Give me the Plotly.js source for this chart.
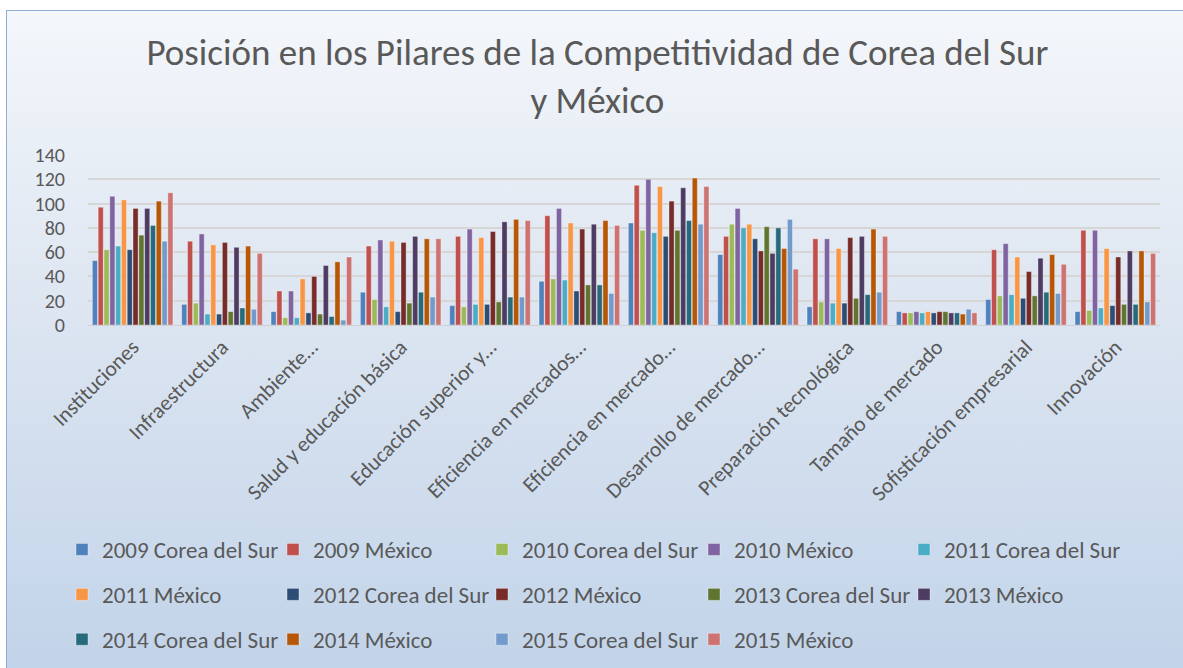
<!DOCTYPE html>
<html>
<head>
<meta charset="utf-8">
<script src="https://cdn.plot.ly/plotly-3.0.1.min.js"></script>
<style>
  html, body { margin: 0; padding: 0; background: #ffffff; }
  #wrap { position: relative; width: 1183px; height: 668px; overflow: hidden; }
  #frame { position: absolute; left: 6px; top: 10px; width: 1180px; height: 670px;
           border: 1px solid #8eaed6;
           background: linear-gradient(to bottom, #f4f7fb 0%, #dfe7f2 40%, #c1d3e9 100%); }
  #chart { position: absolute; left: 0; top: 0; width: 1183px; height: 668px; }
</style>
</head>
<body>
<div id="wrap"><div id="frame"></div><div id="chart"></div></div>
<script>
const categories = ["Instituciones", "Infraestructura", "Ambiente…", "Salud y educación básica",
  "Educación superior y…", "Eficiencia en mercados…", "Eficiencia en mercado…",
  "Desarrollo de mercado…", "Preparación tecnológica", "Tamaño de mercado",
  "Sofisticación empresarial", "Innovación"];

const seriesNames = ["2009 Corea del Sur", "2009 México", "2010 Corea del Sur", "2010 México",
  "2011 Corea del Sur", "2011 México", "2012 Corea del Sur", "2012 México",
  "2013 Corea del Sur", "2013 México", "2014 Corea del Sur", "2014 México",
  "2015 Corea del Sur", "2015 México"];

const kr2009 = [53, 17, 11, 27, 16, 36, 84, 58, 15, 11, 21, 11];
const mx2009 = [97, 69, 28, 65, 73, 90, 115, 73, 71, 10, 62, 78];
const kr2010 = [62, 18, 6, 21, 15, 38, 78, 83, 19, 10, 24, 12];
const mx2010 = [106, 75, 28, 70, 79, 96, 120, 96, 71, 11, 67, 78];
const kr2011 = [65, 9, 6, 15, 17, 37, 76, 80, 18, 10, 25, 14];
const mx2011 = [103, 66, 38, 69, 72, 84, 114, 83, 63, 11, 56, 63];
const kr2012 = [62, 9, 10, 11, 17, 28, 73, 71, 18, 10, 22, 16];
const mx2012 = [96, 68, 40, 68, 77, 79, 102, 61, 72, 11, 44, 56];
const kr2013 = [74, 11, 9, 18, 19, 33, 78, 81, 22, 11, 24, 17];
const mx2013 = [96, 64, 49, 73, 85, 83, 113, 59, 73, 10, 55, 61];
const kr2014 = [82, 14, 7, 27, 23, 33, 86, 80, 25, 10, 27, 17];
const mx2014 = [102, 65, 52, 71, 87, 86, 121, 63, 79, 9, 58, 61];
const kr2015 = [69, 13, 4, 23, 23, 26, 83, 87, 27, 13, 26, 19];
const mx2015 = [109, 59, 56, 71, 86, 82, 114, 46, 73, 10, 50, 59];

const seriesValues = [kr2009, mx2009, kr2010, mx2010, kr2011, mx2011, kr2012, mx2012,
  kr2013, mx2013, kr2014, mx2014, kr2015, mx2015];

const colors = ["#4F81BD", "#C0504D", "#9BBB59", "#8064A2", "#4BACC6", "#F79646",
  "#2C4D75", "#772C2A", "#5F7530", "#4D3B62", "#276A7C", "#B65708", "#729ACA", "#CD7371"];

const FONT = "Carlito, Calibri, 'Liberation Sans Narrow', 'Open Sans', sans-serif";
// legend laid out in 5 columns, 3 rows (row-major order like the reference)
const legendCols = ["legend", "legend2", "legend3", "legend4", "legend5"];

const traces = seriesNames.map((name, i) => ({
  type: "bar",
  name: name,
  x: categories,
  y: seriesValues[i],
  legend: legendCols[i % 5],
  legendgroup: "g" + i,
  marker: { color: colors[i], line: { color: "rgba(255,255,255,0.45)", width: 0.8 } },
  hoverinfo: "x+y+name"
}));

function legendAt(xPx) {
  return {
    orientation: "v",
    xref: "container", yref: "container",
    x: xPx / 1183, y: 1 - 528 / 668,
    xanchor: "left", yanchor: "top",
    itemwidth: 30,
    tracegroupgap: 12,
    bgcolor: "rgba(0,0,0,0)",
    font: { family: FONT, size: 23, color: "#595959" },
    traceorder: "grouped"
  };
}

const layout = {
  width: 1183, height: 668,
  paper_bgcolor: "rgba(0,0,0,0)",
  plot_bgcolor: "rgba(0,0,0,0)",
  font: { family: FONT, color: "#595959" },
  title: {
    text: "Posición en los Pilares de la Competitividad de Corea del Sur<br>y México",
    font: { family: FONT, size: 37, color: "#595959", weight: 300 },
    x: 0.505, xanchor: "center",
    y: 1 - 65 / 668, yref: "container", yanchor: "top"
  },
  margin: { l: 88, r: 23, t: 155, b: 343, pad: 0, autoexpand: false },
  barmode: "group",
  bargap: 0.09,
  bargroupgap: 0.12,
  xaxis: {
    type: "category",
    tickangle: -45,
    tickfont: { family: FONT, size: 21.5, color: "#595959" },
    showline: true, linecolor: "#d0d0d0", linewidth: 1,
    ticks: "", showgrid: false
  },
  yaxis: {
    range: [0, 140],
    dtick: 20,
    tickfont: { family: FONT, size: 20, color: "#595959" },
    gridcolor: "#d6d6d6", gridwidth: 1.5,
    zeroline: false, showline: false, ticks: "",
    ticklabelstandoff: 22
  },
  showlegend: true,
  legend: legendAt(62),
  legend2: legendAt(273),
  legend3: legendAt(482),
  legend4: legendAt(694),
  legend5: legendAt(904)
};

Plotly.newPlot("chart", traces, layout, { displayModeBar: false, staticPlot: false });
</script>
</body>
</html>
